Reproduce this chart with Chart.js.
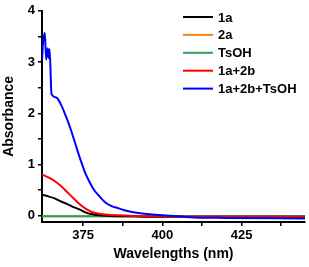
<!DOCTYPE html>
<html>
<head>
<meta charset="utf-8">
<script src="https://cdn.jsdelivr.net/npm/chart.js@4.4.0/dist/chart.umd.min.js"></script>
<style>
  body { margin: 0; background: #fff; }
  #wrap { width: 309px; height: 267px; }
</style>
</head>
<body>
<div id="wrap"><canvas id="uv-chart" width="309" height="267"></canvas></div>
<script>
// wavelengths (nm) for the shared smooth curves
const wavelengths = [362, 364, 366, 368, 370, 372, 374, 376, 378, 380, 383, 386, 390, 395, 400, 410, 420, 445];
const abs1a     = [0.41, 0.38, 0.34, 0.28, 0.23, 0.17, 0.12, 0.06, 0.03, 0.01, 0.00, -0.01, -0.01, -0.02, -0.02, -0.02, -0.02, -0.02];
const abs2a     = [-0.01, -0.01, -0.01, -0.01, -0.01, -0.01, -0.01, -0.01, -0.01, -0.01, -0.01, -0.01, -0.01, -0.01, -0.01, -0.01, -0.01, -0.01];
const absTsOH   = [-0.01, -0.01, -0.01, -0.01, -0.01, -0.01, -0.01, -0.01, -0.01, -0.01, -0.01, -0.01, -0.01, -0.01, -0.01, -0.01, -0.01, -0.01];
const abs1a2b   = [0.81, 0.75, 0.68, 0.58, 0.46, 0.34, 0.22, 0.13, 0.07, 0.04, 0.02, 0.01, 0.00, -0.01, -0.01, -0.02, -0.02, -0.02];

// the blue trace is noisy at the start, so it has its own wavelength list
const wavelengthsBlue = [362, 362.3, 362.9, 363.3, 363.8, 364.1, 364.4, 365, 366.5, 368, 369.5, 371, 372.5, 374, 375.5, 377, 378.5, 380, 382, 384, 386, 388, 390, 393, 396, 400, 405, 410, 420, 445];
const abs1a2bTsOH = [3.02, 3.35, 3.57, 3.05, 3.27, 3.08, 3.25, 2.38, 2.31, 2.17, 1.95, 1.70, 1.41, 1.12, 0.86, 0.66, 0.50, 0.39, 0.26, 0.19, 0.15, 0.11, 0.08, 0.05, 0.03, 0.01, -0.01, -0.03, -0.04, -0.05];

const seriesNames = ["1a", "2a", "TsOH", "1a+2b", "1a+2b+TsOH"];
const xTicks = [375, 387.5, 400, 412.5, 425, 437.5];
const yTicks = [0, 0.5, 1, 1.5, 2, 2.5, 3, 3.5, 4];

const FONT = "'Liberation Sans', Arial, sans-serif";

function toPoints(xs, ys) {
  return xs.map((x, i) => ({ x: x, y: ys[i] }));
}

const lineData = {
  datasets: [
    { label: seriesNames[0], data: toPoints(wavelengths, abs1a), borderColor: "#000000", order: 3 },
    { label: seriesNames[1], data: toPoints(wavelengths, abs2a), borderColor: "#ff7f0e", order: 5 },
    { label: seriesNames[2], data: toPoints(wavelengths, absTsOH), borderColor: "#2ca05a", order: 4 },
    { label: seriesNames[3], data: toPoints(wavelengths, abs1a2b), borderColor: "#ff0000", order: 2 },
    { label: seriesNames[4], data: toPoints(wavelengthsBlue, abs1a2bTsOH), borderColor: "#0000ff", order: 1 },
  ],
};

// legend drawn at the top right, inside the plot
const cornerLegend = {
  id: "cornerLegend",
  afterDraw(chart) {
    const ctx = chart.ctx;
    ctx.save();
    ctx.font = "bold 13px " + FONT;
    ctx.textBaseline = "middle";
    ctx.lineWidth = 2;
    chart.data.datasets.forEach((ds, i) => {
      const y = 17 + i * 17.9;
      ctx.strokeStyle = ds.borderColor;
      ctx.beginPath();
      ctx.moveTo(183, y);
      ctx.lineTo(213, y);
      ctx.stroke();
      ctx.fillStyle = "#000";
      ctx.fillText(ds.label, 218, y + 1);
    });
    ctx.restore();
  },
};

const lineConfig = {
  type: "line",
  data: lineData,
  options: {
    responsive: false,
    animation: false,
    layout: {
      padding: { top: 10, right: 4, left: 0, bottom: 0 },
    },
    elements: {
      point: { radius: 0 },
      line: { borderWidth: 2, cubicInterpolationMode: "monotone" },
    },
    plugins: {
      legend: { display: false },
      tooltip: { enabled: false },
    },
    scales: {
      x: {
        type: "linear",
        min: 362,
        max: 445,
        afterBuildTicks: (scale) => {
          scale.ticks = xTicks.map((v) => ({ value: v }));
        },
        afterFit: (scale) => {
          scale.height = 45;
        },
        border: { display: true, color: "#000", width: 2 },
        grid: { drawOnChartArea: false, drawTicks: true, tickLength: 4, color: "#000", lineWidth: 1.5 },
        ticks: {
          color: "#000",
          padding: 2,
          maxRotation: 0,
          autoSkip: false,
          font: { family: FONT, size: 13, weight: "bold" },
          callback: (v) => (v % 25 === 0 ? String(v) : ""),
        },
        title: {
          display: true,
          text: "Wavelengths (nm)",
          color: "#000",
          padding: { top: 0, bottom: 4 },
          font: { family: FONT, size: 14, weight: "bold" },
        },
      },
      y: {
        min: -0.12,
        max: 4,
        afterBuildTicks: (scale) => {
          scale.ticks = yTicks.map((v) => ({ value: v }));
        },
        afterFit: (scale) => {
          scale.width = 42;
        },
        border: { display: true, color: "#000", width: 2 },
        grid: { drawOnChartArea: false, drawTicks: true, tickLength: 4, color: "#000", lineWidth: 1.5 },
        ticks: {
          color: "#000",
          padding: 3,
          autoSkip: false,
          font: { family: FONT, size: 13, weight: "bold" },
          callback: (v) => (Number.isInteger(v) ? String(v) : ""),
        },
        title: {
          display: true,
          text: "Absorbance",
          color: "#000",
          padding: { top: 1, bottom: 0 },
          font: { family: FONT, size: 14, weight: "bold" },
        },
      },
    },
  },
  plugins: [cornerLegend],
};

const uvChart = new Chart(document.getElementById("uv-chart"), lineConfig);
</script>
</body>
</html>
